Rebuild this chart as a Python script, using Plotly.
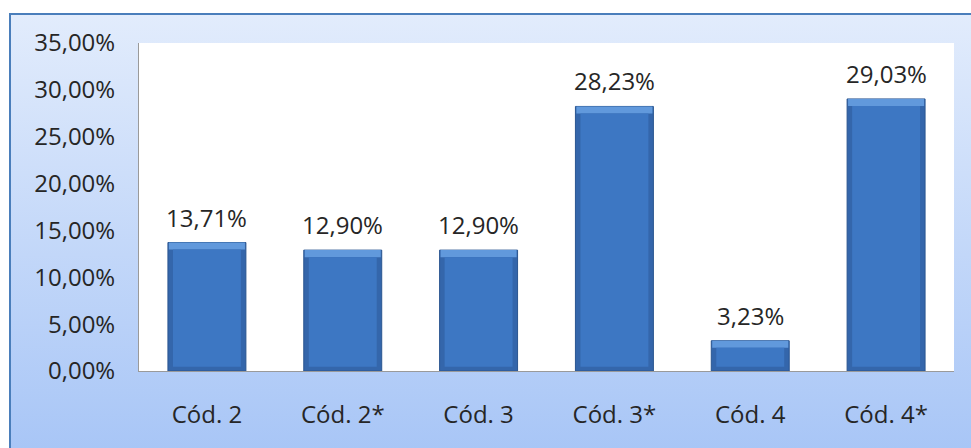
import base64
import plotly.graph_objects as go

categories = ["Cód. 2", "Cód. 2*", "Cód. 3", "Cód. 3*", "Cód. 4", "Cód. 4*"]
values = [13.71, 12.90, 12.90, 28.23, 3.23, 29.03]
y_ticks = [0, 5, 10, 15, 20, 25, 30, 35]
y_tick_text = ["0,00%", "5,00%", "10,00%", "15,00%", "20,00%", "25,00%", "30,00%", "35,00%"]
value_labels = ["13,71%", "12,90%", "12,90%", "28,23%", "3,23%", "29,03%"]

W, H = 971, 448
L, R, T, B = 139, 17, 43, 77
pw, ph = W - L - R, H - T - B

bevel_top = 0.75
bevel_bottom = 0.45
FONT = dict(family="Open Sans", size=24, color="#262626")

svg = f'''<svg xmlns="http://www.w3.org/2000/svg" width="{W}" height="{H}" viewBox="0 0 {W} {H}">
<defs><linearGradient id="g" x1="0" y1="0" x2="0" y2="1">
<stop offset="0" stop-color="#e2ecfc"/><stop offset="1" stop-color="#a4c3f6"/></linearGradient></defs>
<rect x="0" y="0" width="{W}" height="{H}" fill="#ffffff"/>
<rect x="10" y="14" width="{W+20}" height="{H+20}" fill="url(#g)" stroke="#4a7ebb" stroke-width="2"/>
<rect x="{L}" y="{T}" width="{pw}" height="{ph}" fill="#ffffff"/>
</svg>'''
src = "data:image/svg+xml;base64," + base64.b64encode(svg.encode()).decode()

fig = go.Figure()
fig.add_trace(go.Bar(
    x=categories, y=values, width=0.574,
    marker=dict(color="#3466ab", line=dict(color="#2a5590", width=1)),
    hoverinfo="skip",
))
fig.add_trace(go.Bar(
    x=categories, y=[bevel_top] * len(values), base=[v - bevel_top for v in values],
    width=0.56,
    marker=dict(color="#6199dc", line=dict(width=0)),
    hoverinfo="skip",
))
fig.add_trace(go.Bar(
    x=categories, y=[v - bevel_top - bevel_bottom for v in values],
    base=bevel_bottom, width=0.50,
    marker=dict(color="#3d77c3", line=dict(width=0)),
    hoverinfo="skip",
))

annotations = [
    dict(x=c, y=v, text=t, xref="x", yref="y", showarrow=False,
         yanchor="bottom", yshift=7, font=FONT)
    for c, v, t in zip(categories, values, value_labels)
]

fig.update_layout(
    width=W, height=H,
    margin=dict(l=L, r=R, t=T, b=B),
    barmode="overlay",
    showlegend=False,
    paper_bgcolor="#ffffff",
    plot_bgcolor="rgba(0,0,0,0)",
    font=FONT,
    annotations=annotations,
    images=[dict(source=src, xref="paper", yref="paper",
                 x=-L / pw, y=1 + T / ph, sizex=W / pw, sizey=H / ph,
                 xanchor="left", yanchor="top", sizing="stretch", layer="below")],
    xaxis=dict(showline=True, linecolor="#9a9a9a", linewidth=1, showgrid=False,
               ticks="", ticklabelstandoff=22, automargin=False, tickfont=FONT),
    yaxis=dict(range=[0, 35], tickmode="array", tickvals=y_ticks, ticktext=y_tick_text,
               showline=True, linecolor="#9a9a9a", linewidth=1, showgrid=False,
               zeroline=False, ticks="", ticklabelstandoff=18, automargin=False,
               tickfont=FONT),
)

fig.write_html("out.html", config={"displayModeBar": False},
               post_script="document.body.style.margin='0';document.body.style.overflow='hidden';")
